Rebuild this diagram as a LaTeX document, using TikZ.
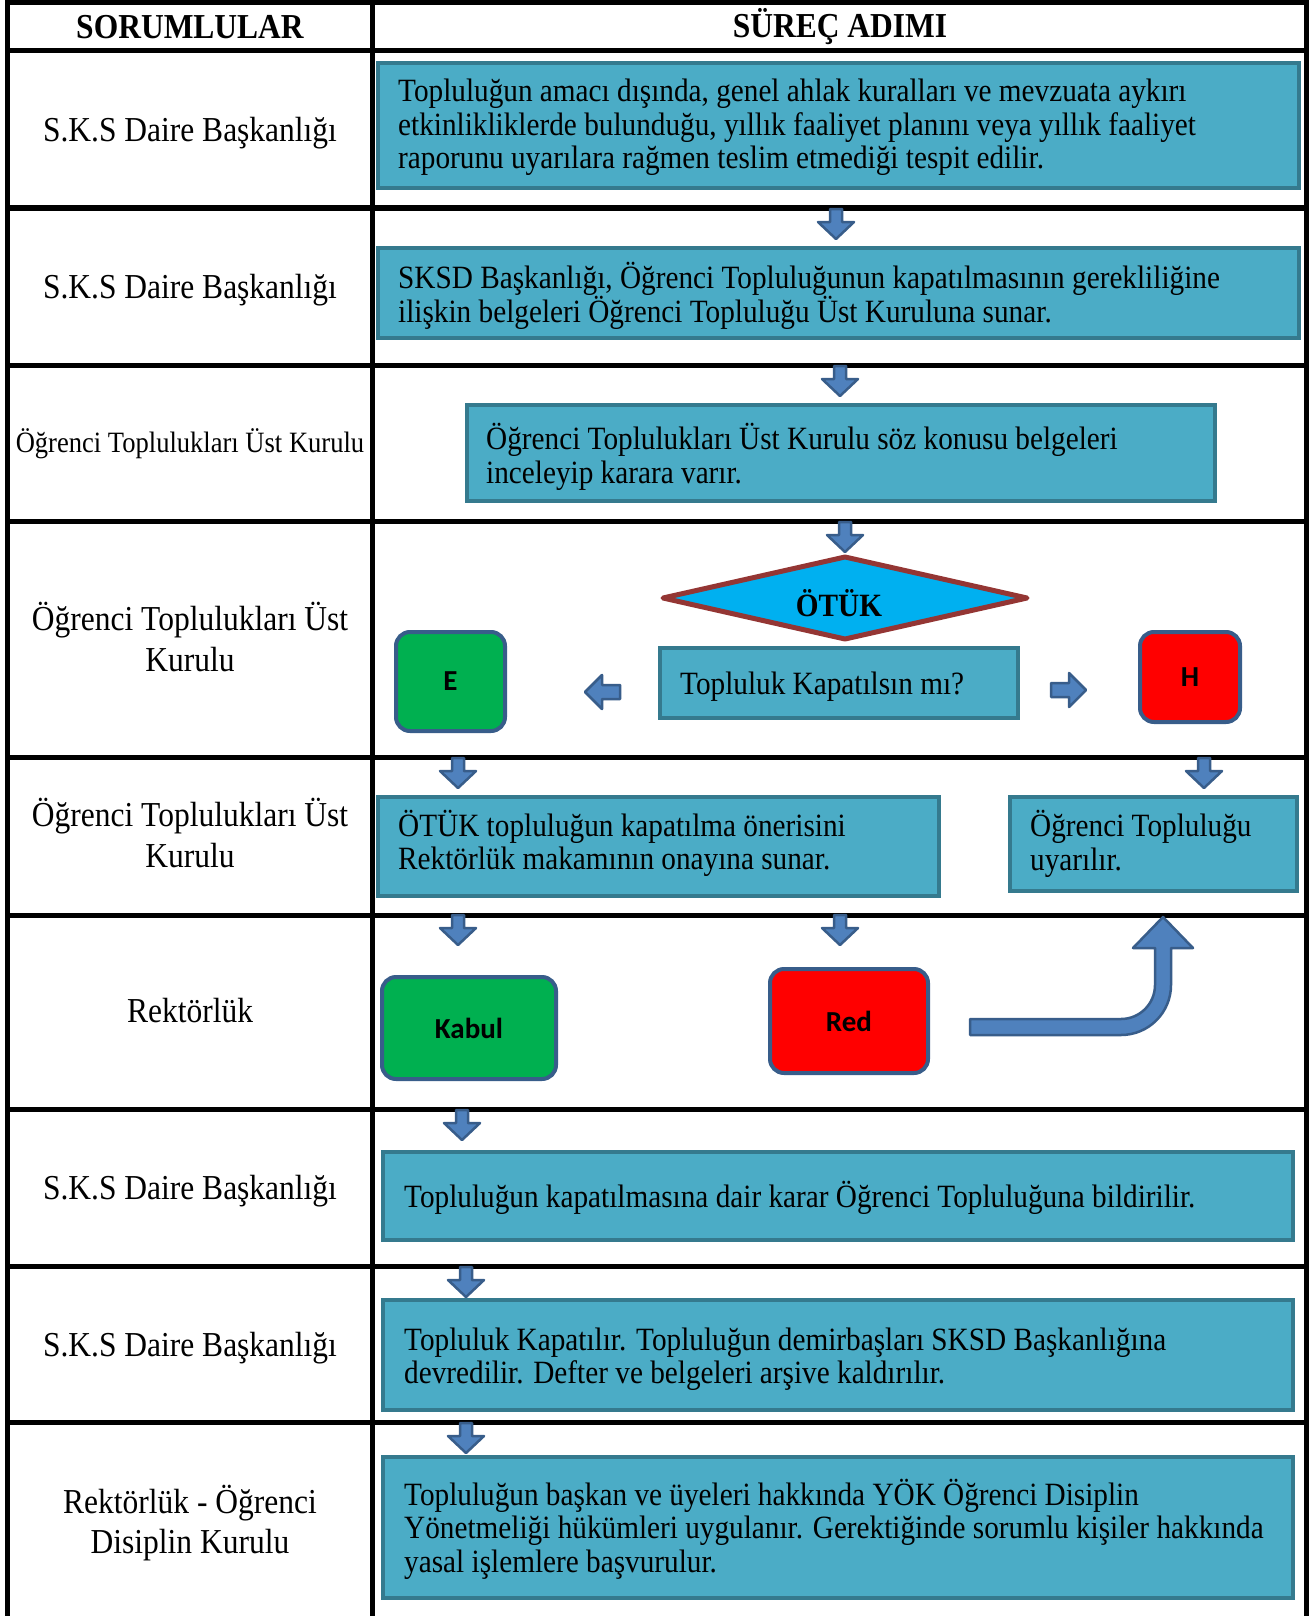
\documentclass[tikz,border=0pt]{standalone}
\usepackage{fontspec}
\setmainfont{Liberation Serif}[FakeStretch=0.9]
\newfontfamily\calb{Carlito}
\definecolor{boxfill}{HTML}{4BACC6}
\definecolor{boxline}{HTML}{357A8E}
\definecolor{arrfill}{HTML}{4F81BD}
\definecolor{arrline}{HTML}{385D8A}
\definecolor{dfill}{HTML}{00B0F0}
\definecolor{dline}{HTML}{943634}
\definecolor{gfill}{HTML}{00B050}
\newcommand\boxfont{\fontsize{32.5}{33.5}\selectfont}
\newcommand\lblfont{\fontsize{35}{40.5}\selectfont}
\tikzset{
  gridline/.style={line width=5pt, black},
  proc/.style={draw=boxline, fill=boxfill, line width=4pt, rectangle, inner sep=0pt},
  boxtext/.style={align=flush left, font=\boxfont, inner sep=0pt, anchor=west},
  lbl/.style={font=\lblfont, align=center},
  hdr/.style={font=\fontsize{35}{35}\selectfont\bfseries},
  choice/.style={rounded corners=14pt, draw=arrline, line width=4pt, rectangle, font=\calb\bfseries\fontsize{29}{29}\selectfont},
  blk/.style={fill=arrfill, draw=arrline, line width=2.5pt, line join=round},
  darrow/.pic={\filldraw[blk] (-6,0) -- (6,0) -- (6,13) -- (18,13) -- (0,30) -- (-18,13) -- (-6,13) -- cycle;},
  larrow/.pic={\filldraw[blk] (0,0) -- (17,-17) -- (17,-7) -- (35,-7) -- (35,7) -- (17,7) -- (17,17) -- cycle;},
  rarrow/.pic={\filldraw[blk] (0,0) -- (-17,-17) -- (-17,-7) -- (-35,-7) -- (-35,7) -- (-17,7) -- (-17,17) -- cycle;}
}
\begin{document}
\begin{tikzpicture}[x=1pt,y=-1pt]
\useasboundingbox (0,0) rectangle (1315,1616);
\fill[white] (0,0) rectangle (1315,1616);
% table grid
\draw[gridline] (7,1616) -- (7,3) -- (1306,3) -- (1306,1616);
\draw[gridline] (372,3) -- (372,1616);
\foreach \yy in {51,208,365,521,757,915,1109,1266,1422}
  \draw[gridline] (7,\yy) -- (1306,\yy);
% headers
\node[hdr] (h1) at (190,27) {SORUMLULAR};
\node[hdr] (h2) at (840,27) {SÜREÇ ADIMI};
% left column
\node[lbl] (l1) at (190,133) {S.K.S Daire Başkanlığı};
\node[lbl] (l2) at (190,290) {S.K.S Daire Başkanlığı};
\node[lbl, font=\fontsize{29.5}{34}\selectfont] (l3) at (190,444) {Öğrenci Toplulukları Üst Kurulu};
\node[lbl] (l4) at (190,637) {Öğrenci Toplulukları Üst\\Kurulu};
\node[lbl] (l5) at (190,833) {Öğrenci Toplulukları Üst\\Kurulu};
\node[lbl] (l6) at (190,1011) {Rektörlük};
\node[lbl] (l7) at (190,1191) {S.K.S Daire Başkanlığı};
\node[lbl] (l8) at (190,1348) {S.K.S Daire Başkanlığı};
\node[lbl] (l9) at (190,1523) {Rektörlük - Öğrenci\\Disiplin Kurulu};
% process boxes
\node[proc, minimum width=921pt, minimum height=125pt] (b1) at (838.5,125.5) {};
\node[boxtext] (t1) at ([xshift=22pt,yshift=-2pt]b1.west)
  {Topluluğun amacı dışında, genel ahlak kuralları ve mevzuata aykırı\\etkinlikliklerde bulunduğu, yıllık faaliyet planını veya yıllık faaliyet\\raporunu uyarılara rağmen teslim etmediği tespit edilir.};
\node[proc, minimum width=921pt, minimum height=90pt] (b2) at (838.5,293) {};
\node[boxtext] (t2) at ([xshift=22pt,yshift=-3pt]b2.west)
  {SKSD Başkanlığı, Öğrenci Topluluğunun kapatılmasının gerekliliğine\\ilişkin belgeleri Öğrenci Topluluğu Üst Kuruluna sunar.};
\node[proc, minimum width=748pt, minimum height=96pt] (b3) at (841,453) {};
\node[boxtext] (t3) at ([xshift=21pt,yshift=-4pt]b3.west)
  {Öğrenci Toplulukları Üst Kurulu söz konusu belgeleri\\inceleyip karara varır.};
% decision
\filldraw[fill=dfill, draw=dline, line width=5pt, line join=round] (663,598) -- (845,557) -- (1027,598) -- (845,639) -- cycle;
\node[font=\fontsize{32.5}{32.5}\selectfont\bfseries] (otuk) at (839,603) {ÖTÜK};
\node[proc, minimum width=358pt, minimum height=70pt] (q) at (839,683) {};
\node[boxtext] (tq) at ([xshift=22pt,yshift=-4pt]q.west) {Topluluk Kapatılsın mı?};
\node[choice, fill=gfill, minimum width=109pt, minimum height=99pt] (e) at (450.5,681.5) {E};
\node[choice, fill=red, minimum width=100pt, minimum height=90pt] (hh) at (1190,677) {H};
\pic at (585,692) {larrow};
\pic at (1086,690) {rarrow};
% row 5
\node[proc, minimum width=561pt, minimum height=99pt] (b5a) at (658.5,846.5) {};
\node[boxtext] (t5a) at ([xshift=22pt,yshift=3pt]b5a.west)
  {ÖTÜK topluluğun kapatılma önerisini\\Rektörlük makamının onayına sunar.};
\node[proc, minimum width=287pt, minimum height=94pt] (b5b) at (1153.5,844) {};
\node[boxtext] (t5b) at ([xshift=22pt]b5b.west)
  {Öğrenci Topluluğu\\uyarılır.};
% row 6
\node[choice, fill=gfill, minimum width=174pt, minimum height=102pt] (kabul) at (469,1028) {Kabul};
\node[choice, fill=red, minimum width=158pt, minimum height=104pt] (red) at (849,1021) {Red};
\filldraw[blk] (970,1019) -- (970,1035) -- (1121,1035) .. controls (1148.6,1035) and (1171,1012.6) .. (1171,985) -- (1171,948) -- (1193,948) -- (1163,917) -- (1133,948) -- (1155,948) -- (1155,985) .. controls (1155,1003.8) and (1139.8,1019) .. (1121,1019) -- cycle;
% rows 7-9
\node[proc, minimum width=910pt, minimum height=88pt] (b7) at (838,1196) {};
\node[boxtext] (t7) at ([xshift=23pt,yshift=-2pt]b7.west)
  {Topluluğun kapatılmasına dair karar Öğrenci Topluluğuna bildirilir.};
\node[proc, minimum width=910pt, minimum height=110pt] (b8) at (838,1355) {};
\node[boxtext] (t8) at ([xshift=23pt,yshift=-4pt]b8.west)
  {Topluluk Kapatılır. Topluluğun demirbaşları SKSD Başkanlığına\\devredilir. Defter ve belgeleri arşive kaldırılır.};
\node[proc, minimum width=910pt, minimum height=141pt] (b9) at (838,1527) {};
\node[boxtext] (t9) at ([xshift=23pt,yshift=-2pt]b9.west)
  {Topluluğun başkan ve üyeleri hakkında YÖK Öğrenci Disiplin\\Yönetmeliği hükümleri uygulanır. Gerektiğinde sorumlu kişiler hakkında\\yasal işlemlere başvurulur.};
% down arrows
\pic at (836,209) {darrow};
\pic at (840,366) {darrow};
\pic at (845,522) {darrow};
\pic at (458,758) {darrow};
\pic at (1204,758) {darrow};
\pic at (458,915) {darrow};
\pic at (840,915) {darrow};
\pic at (462,1110) {darrow};
\pic at (466,1267) {darrow};
\pic at (466,1423) {darrow};
\end{tikzpicture}
\end{document}
